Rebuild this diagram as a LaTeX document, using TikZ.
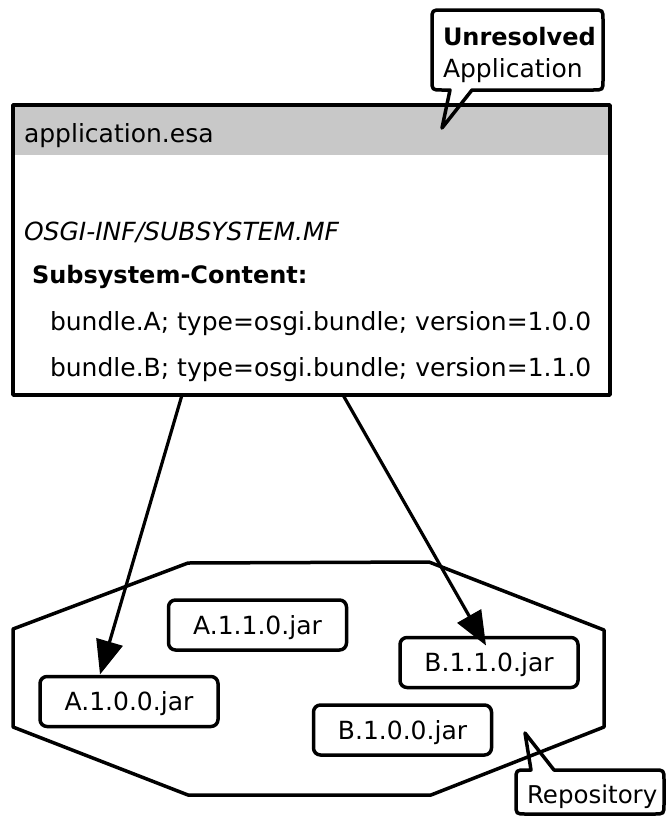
\documentclass[tikz,border=0pt]{standalone}
\usepackage{fontspec}
\setmainfont{DejaVu Sans}
\usetikzlibrary{arrows.meta,calc}
\begin{document}
\begin{tikzpicture}[x=1pt,y=-1pt,
  every node/.style={inner sep=0pt, outer sep=0pt},
  outline/.style={line width=3.5pt, line join=round, draw=black},
  jar/.style={outline, fill=white, rounded corners=7pt, minimum width=178pt, minimum height=50pt,
    font=\fontsize{25}{30}\selectfont, text height=18pt, text depth=0pt},
  txt/.style={anchor=base west, font=\fontsize{25}{30}\selectfont},
  link/.style={line width=3.2pt, -{Triangle[length=34pt,width=27pt]}},
]
\useasboundingbox (0,0) rectangle (667,817);

% application box
\node[minimum width=597pt, minimum height=290pt] (app) at (311.5,250) {};
\fill[fill={rgb,255:red,200;green,200;blue,200}] (app.north west) rectangle ($(app.north east)+(0,50)$);
\draw[outline] (app.north west) rectangle (app.south east);
\node[txt] (hdr) at (24,142) {application.esa};
\node[txt, font=\fontsize{25}{30}\selectfont\itshape] (mf) at (24,240) {OSGI-INF/SUBSYSTEM.MF};
\node[txt, font=\fontsize{24}{30}\selectfont\bfseries] (sc) at (32,283) {Subsystem-Content:};
\node[txt] (ba) at (50,330) {bundle.A; type=osgi.bundle; version=1.0.0};
\node[txt] (bb) at (50,376) {bundle.B; type=osgi.bundle; version=1.1.0};

% unresolved application callout
\fill[white] (442,10) -- (593,10) -- (603,20) -- (603,80) -- (593,90) -- (442,90) -- (432,80) -- (432,20) -- cycle;
\draw[outline] (442,128) -- (450,90) -- (442,90) .. controls (432,90) .. (432,80)
  -- (432,20) .. controls (432,10) .. (442,10) -- (593,10) .. controls (603,10) .. (603,20)
  -- (603,80) .. controls (603,90) .. (593,90) -- (472,90) -- cycle;
\node[txt, font=\fontsize{24}{30}\selectfont\bfseries] (unres) at (443,45) {Unresolved};
\node[txt] (appl) at (443,77) {Application};

% repository
\draw[outline] (188,563) -- (429,562) -- (604,630) -- (604,727) -- (431,795) -- (188,795)
  -- (13,727) -- (13,629) -- cycle;
\node[jar] (a110) at (257.5,625) {A.1.1.0.jar};
\node[jar] (b110) at (489,662.5) {B.1.1.0.jar};
\node[jar] (a100) at (129,701.5) {A.1.0.0.jar};
\node[jar] (b100) at (402.5,730) {B.1.0.0.jar};

% repository callout
\draw[outline] (525,733) -- (554,770) -- (654,770) .. controls (664,770) .. (664,780)
  -- (664,804) .. controls (664,814) .. (654,814) -- (526,814) .. controls (516,814) .. (516,804)
  -- (516,780) .. controls (516,770) .. (526,770) -- (531,770) -- cycle;
\node[txt, font=\fontsize{24.5}{30}\selectfont] (repo) at (527,803) {Repository};

% connectors
\coordinate (sa) at ($(app.south west)+(169,0)$);
\coordinate (sb) at ($(app.south west)+(330,0)$);
\draw[link] (sa) -- ($(a100.north west)+(60,-2)$);
\draw[link] (sb) -- ($(b110.north west)+(86,8)$);
\end{tikzpicture}
\end{document}
